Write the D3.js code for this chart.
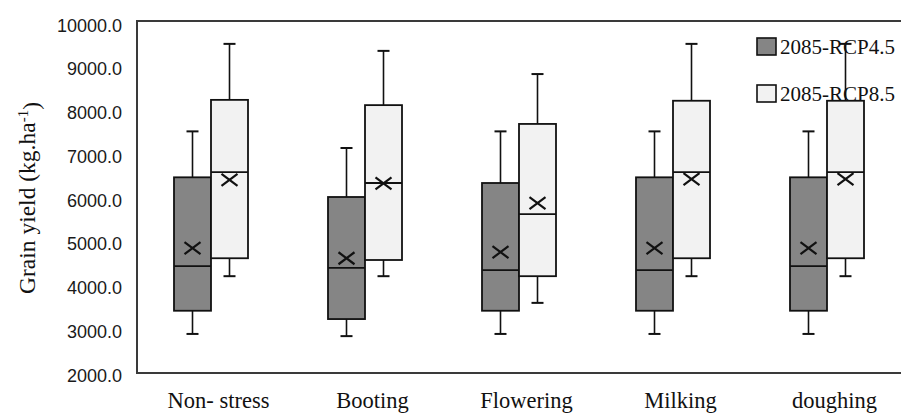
<!DOCTYPE html>
<html>
<head>
<meta charset="utf-8">
<script src="https://cdn.jsdelivr.net/npm/d3@7"></script>
<style>
  body { margin: 0; background: #fff; }
  svg { display: block; }
</style>
</head>
<body>
<figure id="chart" style="margin:0"></figure>
<script>
// stages and scenarios
const stages = ['Non- stress', 'Booting', 'Flowering', 'Milking', 'doughing'];
const scenarios = ['2085-RCP4.5', '2085-RCP8.5'];
const yTicks = [2000, 3000, 4000, 5000, 6000, 7000, 8000, 9000, 10000];

// box stats per stage: [min, q1, median, q3, max, mean]
const rcp45 = [
  [2870, 3400, 4420, 6450, 7500, 4830],
  [2820, 3210, 4380, 6000, 7120, 4600],
  [2870, 3400, 4330, 6320, 7500, 4740],
  [2870, 3400, 4330, 6450, 7500, 4830],
  [2870, 3400, 4420, 6450, 7500, 4830]
];
const rcp85 = [
  [4190, 4600, 6570, 8220, 9500, 6390],
  [4190, 4560, 6320, 8100, 9340, 6310],
  [3580, 4190, 5610, 7670, 8810, 5860],
  [4190, 4600, 6570, 8200, 9500, 6410],
  [4190, 4600, 6570, 8200, 9500, 6410]
];

const width = 901;
const height = 413;
const plot = { left: 137, top: 21, bottom: 373 };
const boxWidth = 37;
const colors = { '2085-RCP4.5': '#858585', '2085-RCP8.5': '#f2f2f2' };

const svg = d3.select('figure#chart')
  .append('svg')
  .attr('width', width)
  .attr('height', height);

const x = d3.scalePoint()
  .domain(stages)
  .range([211, 827]);

const xSeries = d3.scaleBand()
  .domain(scenarios)
  .range([-boxWidth, boxWidth]);

const y = d3.scaleLinear()
  .domain([2000, 10000])
  .range([372, 22]);

// plot frame (right side runs off the picture)
svg.append('path')
  .attr('d', 'M' + (width + 5) + ',' + plot.top + 'H' + plot.left + 'V' + plot.bottom + 'H' + (width + 5))
  .attr('fill', 'none')
  .attr('stroke', '#3a3a3a')
  .attr('stroke-width', 2);

const yAxis = svg.append('g')
  .attr('transform', 'translate(' + plot.left + ',0)')
  .call(d3.axisLeft(y).tickValues(yTicks).tickFormat(d3.format('.1f')).tickSize(0).tickPadding(15));
yAxis.select('.domain').remove();
yAxis.selectAll('text')
  .attr('dy', '0.5em')
  .style('font-family', '"Liberation Sans", Arial, sans-serif')
  .style('font-size', '18px')
  .attr('fill', '#1a1a1a');

const xAxis = svg.append('g')
  .attr('transform', 'translate(7,' + plot.bottom + ')')
  .call(d3.axisBottom(x).tickSize(0).tickPadding(19));
xAxis.select('.domain').remove();
xAxis.selectAll('text')
  .style('font-family', '"Liberation Serif", "Times New Roman", serif')
  .style('font-size', '22.5px')
  .attr('fill', '#111');

// y axis title
const title = svg.append('text')
  .attr('transform', 'translate(35,198) rotate(-90)')
  .attr('text-anchor', 'middle')
  .style('font-family', '"Liberation Serif", "Times New Roman", serif')
  .style('font-size', '23.5px')
  .attr('fill', '#111');
title.append('tspan').text('Grain yield (kg.ha');
title.append('tspan').attr('dy', '-0.45em').style('font-size', '15px').text('-1');
title.append('tspan').attr('dy', '0.45em').text(')');

const series = [
  { name: scenarios[0], values: rcp45 },
  { name: scenarios[1], values: rcp85 }
];

series.forEach(s => {
  const g = svg.append('g');
  const boxes = g.selectAll('g.box')
    .data(s.values.map((v, i) => ({ stage: stages[i], v: v })))
    .enter()
    .append('g')
    .attr('class', 'box');

  const left = d => x(d.stage) + xSeries(s.name);
  const mid = d => left(d) + boxWidth / 2;

  // whiskers
  boxes.append('line')
    .attr('x1', mid).attr('x2', mid)
    .attr('y1', d => y(d.v[4])).attr('y2', d => y(d.v[3]))
    .attr('stroke', '#111').attr('stroke-width', 1.6);
  boxes.append('line')
    .attr('x1', mid).attr('x2', mid)
    .attr('y1', d => y(d.v[1])).attr('y2', d => y(d.v[0]))
    .attr('stroke', '#111').attr('stroke-width', 1.6);
  [0, 4].forEach(k => {
    boxes.append('line')
      .attr('x1', d => mid(d) - 6).attr('x2', d => mid(d) + 6)
      .attr('y1', d => y(d.v[k])).attr('y2', d => y(d.v[k]))
      .attr('stroke', '#111').attr('stroke-width', 2);
  });

  boxes.append('rect')
    .attr('x', left)
    .attr('y', d => y(d.v[3]))
    .attr('width', boxWidth)
    .attr('height', d => y(d.v[1]) - y(d.v[3]))
    .attr('fill', colors[s.name])
    .attr('stroke', '#111')
    .attr('stroke-width', 1.8);

  boxes.append('line')
    .attr('x1', left).attr('x2', d => left(d) + boxWidth)
    .attr('y1', d => y(d.v[2])).attr('y2', d => y(d.v[2]))
    .attr('stroke', '#111').attr('stroke-width', 1.8);

  // mean marker
  boxes.append('path')
    .attr('d', d => {
      const cx = mid(d), cy = y(d.v[5]);
      return 'M' + (cx - 8) + ',' + (cy - 6) + 'L' + (cx + 8) + ',' + (cy + 6) +
        'M' + (cx - 8) + ',' + (cy + 6) + 'L' + (cx + 8) + ',' + (cy - 6);
    })
    .attr('stroke', '#111')
    .attr('stroke-width', 2.2)
    .attr('fill', 'none');
});

// legend
const legend = svg.append('g')
  .selectAll('g')
  .data(scenarios)
  .enter()
  .append('g')
  .attr('transform', (d, i) => 'translate(757,' + (38 + i * 47) + ')');
legend.append('rect')
  .attr('width', 19)
  .attr('height', 17)
  .attr('fill', d => colors[d])
  .attr('stroke', '#111')
  .attr('stroke-width', 1.6);
legend.append('text')
  .attr('x', 23)
  .attr('y', 16)
  .style('font-family', '"Liberation Serif", "Times New Roman", serif')
  .style('font-size', '21px')
  .attr('fill', '#111')
  .text(d => d);
</script>
</body>
</html>
